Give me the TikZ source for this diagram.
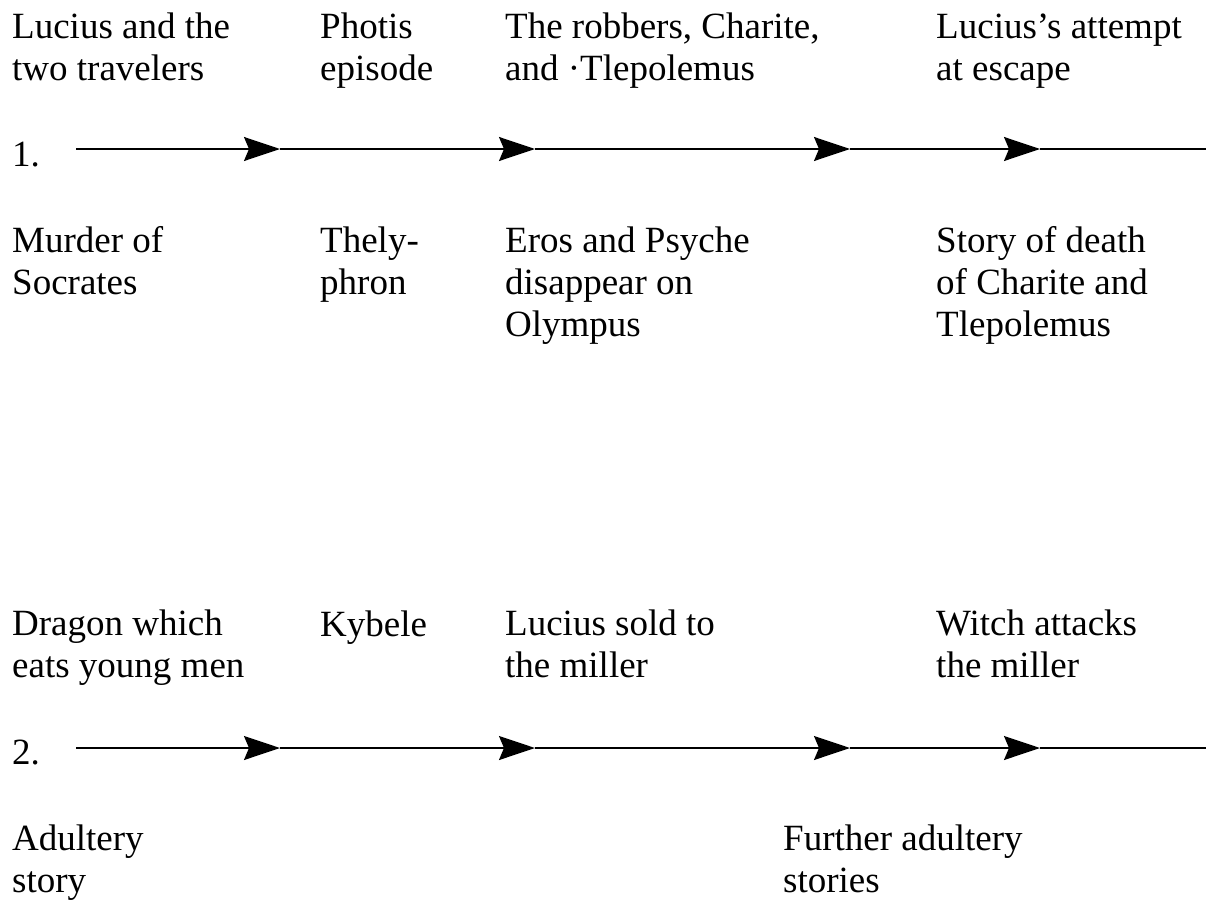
\documentclass[tikz,border=0pt]{standalone}
\usepackage{fontspec}
\setmainfont{Liberation Serif}
\usetikzlibrary{arrows.meta}

\begin{document}
\begin{tikzpicture}[x=1pt, y=-1pt,
    ev/.style={anchor=base west, inner sep=0pt, align=left, font=\fontsize{37}{42}\selectfont},
    num/.style={anchor=base west, inner sep=0pt, font=\fontsize{37}{42}\selectfont},
    flow/.style={-{Stealth[length=36pt, width=24pt, inset=5pt]}, line width=1.8pt},
    rest/.style={line width=1.8pt},
]
\useasboundingbox (0,0) rectangle (1206,899);

% Sequence 1: upper events (anchored at last baseline)
\node[ev] (travel) at (12,80) {Lucius and the\\two travelers};
\node[ev] (photis) at (320,80) {Photis\\episode};
\node[ev] (robbers) at (505,80) {The robbers, Charite,\\and ·Tlepolemus};
\node[ev] (escape) at (936,80) {Lucius’s attempt\\at escape};

% Sequence 1: line
\node[num] (one) at (12,166) {1.};
\coordinate (a0) at (76,149);
\coordinate (a1) at (280,149);
\coordinate (a2) at (535,149);
\coordinate (a3) at (850,149);
\coordinate (a4) at (1040,149);
\coordinate (a5) at (1206,149);
\draw[flow] (a0) -- (a1);
\draw[flow] (a1) -- (a2);
\draw[flow] (a2) -- (a3);
\draw[flow] (a3) -- (a4);
\draw[rest] (a4) -- (a5);

% Sequence 1: lower events
\node[ev] (socrates) at (12,294) {Murder of\\Socrates};
\node[ev] (thely) at (320,294) {Thely-\\phron};
\node[ev] (eros) at (505,336) {Eros and Psyche\\disappear on\\Olympus};
\node[ev] (death) at (936,336) {Story of death\\of Charite and\\Tlepolemus};

% Sequence 2: upper events
\node[ev] (dragon) at (12,677) {Dragon which\\eats young men};
\node[ev] (kybele) at (320,636) {Kybele};
\node[ev] (sold) at (505,677) {Lucius sold to\\the miller};
\node[ev] (witch) at (936,677) {Witch attacks\\the miller};

% Sequence 2: line
\node[num] (two) at (12,764) {2.};
\coordinate (b0) at (76,748);
\coordinate (b1) at (280,748);
\coordinate (b2) at (535,748);
\coordinate (b3) at (850,748);
\coordinate (b4) at (1040,748);
\coordinate (b5) at (1206,748);
\draw[flow] (b0) -- (b1);
\draw[flow] (b1) -- (b2);
\draw[flow] (b2) -- (b3);
\draw[flow] (b3) -- (b4);
\draw[rest] (b4) -- (b5);

% Sequence 2: lower events
\node[ev] (adult) at (12,892) {Adultery\\story};
\node[ev] (further) at (783,892) {Further adultery\\stories};
\end{tikzpicture}
\end{document}
